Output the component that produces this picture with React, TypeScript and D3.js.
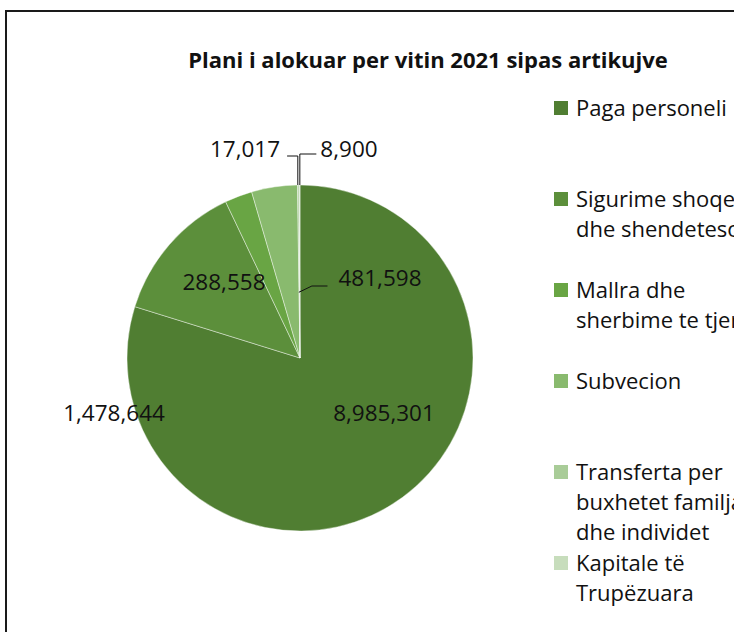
import React, { useEffect } from "react";
import * as d3 from "d3";

// plan 2021 by budget article
const categories = [
  "Paga personeli",
  "Sigurime shoqerore dhe shendetesore",
  "Mallra dhe sherbime te tjera",
  "Subvecion",
  "Transferta per buxhetet familjare dhe individet",
  "Kapitale të Trupëzuara",
];
const values = [8985301, 1478644, 288558, 481598, 17017, 8900];
// label text as printed (Excel placed them a bit off their own slice)
const labelTexts = ["8,985,301", "1,478,644", "288,558", "481,598", "17,017", "8,900"];
const legendLines = [
  ["Paga personeli"],
  ["Sigurime shoqerore", "dhe shendetesore"],
  ["Mallra dhe", "sherbime te tjera"],
  ["Subvecion"],
  ["Transferta per", "buxhetet familjare", "dhe individet"],
  ["Kapitale të", "Trupëzuara"],
];
const colors = ["#507E32", "#5C8F3B", "#69A544", "#89BA6E", "#A9CC98", "#C7DDBC"];

// label placement: offset from pie centre, and optional leader (slice fraction, radius fraction, side of text)
const labelPos = [
  { dx: 84, dy: 63 },
  { dx: -186, dy: 63 },
  { dx: -76, dy: -68 },
  { dx: 80, dy: -72, leader: { t: 0.99, r: 0.38, side: "left", gap: 11, ly: 0 } },
  { dx: -55, dy: -201, leader: { t: 0.2, r: 1, side: "right", gap: 7, ly: -1 } },
  { dx: 49, dy: -201, leader: { t: 0.8, r: 1, side: "left", gap: 4, ly: -3 } },
];

const W = 734;
const H = 632;
const cx = 300;
const cy = 358;
const radius = 173;
const labelSize = 22.5;
const font = "'Open Sans', 'Noto Sans', sans-serif";

// rough width of a number label in Open Sans
const textWidth = (s: string) =>
  s.split("").reduce((w, c) => w + (c === "," ? 0.26 : 0.572), 0) * labelSize;

const App = () => {
  useEffect(() => {
    document.body.style.margin = "0";
  }, []);

  const pie = d3.pie<number>().sort(null).value((d) => d);
  const arcs = pie(values);
  const arc = d3.arc<d3.PieArcDatum<number>>().innerRadius(0).outerRadius(radius);

  const legendY = d3.scaleLinear().domain([0, categories.length - 1]).range([101, 556]);

  return (
    <svg width={W} height={H} style={{ display: "block", overflow: "hidden" }} fontFamily={font}>
      <rect x={0} y={0} width={W} height={H} fill="#fff" />
      <rect x={6} y={11} width={W + 20} height={H + 20} fill="none" stroke="#1a1a1a" strokeWidth={2} />
      <text x={428} y={68} textAnchor="middle" fontSize={22} fontWeight="bold" fill="#111">
        Plani i alokuar per vitin 2021 sipas artikujve
      </text>

      <g transform={`translate(${cx},${cy})`}>
        {arcs.map((a, i) => (
          <path key={categories[i]} d={arc(a) || ""} fill={colors[i]} stroke="#fff" strokeOpacity={0.55} strokeWidth={0.75} />
        ))}
        {arcs.map((a, i) => {
          const p = labelPos[i];
          const lx = p.dx;
          const ly = p.dy;
          let leader = null;
          if (p.leader) {
            const L = p.leader;
            const ang = a.startAngle + (a.endAngle - a.startAngle) * L.t;
            const ax = Math.sin(ang) * radius * L.r;
            const ay = -Math.cos(ang) * radius * L.r;
            const half = textWidth(labelTexts[i]) / 2;
            const ex = L.side === "left" ? lx - half - L.gap : lx + half + L.gap;
            const ey = ly + L.ly;
            if (L.r >= 1) {
              leader = `M${ex},${ey}L${ax},${ey}L${ax},${ay}`;
            } else {
              leader = `M${ax},${ay}L${ax + 13},${ey}L${ex},${ey}`;
            }
          }
          return (
            <g key={"l" + i}>
              {leader && <path d={leader} fill="none" stroke="#111" strokeWidth={1} />}
              <text x={lx} y={ly} textAnchor="middle" fontSize={labelSize} fill="#111">
                {labelTexts[i]}
              </text>
            </g>
          );
        })}
      </g>

      <g>
        {legendLines.map((lines, i) => (
          <g key={"lg" + i} transform={`translate(554,${legendY(i)})`}>
            <rect x={0} y={0} width={14} height={14} fill={colors[i]} />
            {lines.map((ln, j) => (
              <text key={j} x={22} y={15 + j * 30} fontSize={22} fill="#111">
                {ln}
              </text>
            ))}
          </g>
        ))}
      </g>
    </svg>
  );
};

export default App;
